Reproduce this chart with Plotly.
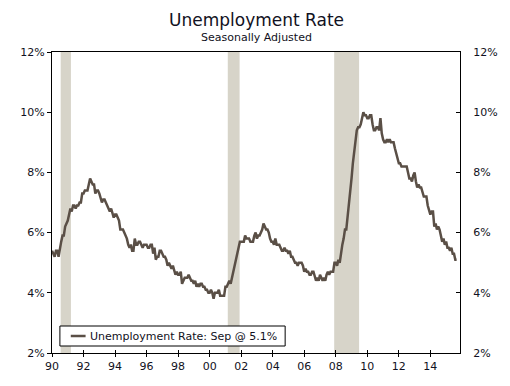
import plotly.graph_objects as go

title_text = "Unemployment Rate"
subtitle_text = "Seasonally Adjusted"
series_name = "Unemployment Rate: Sep @ 5.1%"

start_year = 1990
rate = [
    5.4, 5.3, 5.2, 5.4, 5.4, 5.2, 5.5, 5.7, 5.9, 5.9, 6.2, 6.3,
    6.4, 6.6, 6.8, 6.7, 6.9, 6.9, 6.8, 6.9, 6.9, 7.0, 7.0, 7.3,
    7.3, 7.4, 7.4, 7.4, 7.6, 7.8, 7.7, 7.6, 7.6, 7.3, 7.4, 7.4,
    7.3, 7.1, 7.0, 7.1, 7.1, 7.0, 6.9, 6.8, 6.7, 6.8, 6.6, 6.5,
    6.6, 6.6, 6.5, 6.4, 6.1, 6.1, 6.1, 6.0, 5.9, 5.8, 5.6, 5.5,
    5.6, 5.4, 5.4, 5.8, 5.6, 5.6, 5.7, 5.7, 5.6, 5.5, 5.6, 5.6,
    5.6, 5.5, 5.5, 5.6, 5.6, 5.3, 5.5, 5.1, 5.2, 5.2, 5.4, 5.4,
    5.3, 5.2, 5.2, 5.1, 4.9, 5.0, 4.9, 4.8, 4.9, 4.7, 4.6, 4.7,
    4.6, 4.6, 4.7, 4.3, 4.4, 4.5, 4.5, 4.5, 4.6, 4.5, 4.4, 4.4,
    4.3, 4.4, 4.2, 4.3, 4.2, 4.3, 4.3, 4.2, 4.2, 4.1, 4.1, 4.0,
    4.0, 4.1, 4.0, 3.8, 4.0, 4.0, 4.0, 4.1, 3.9, 3.9, 3.9, 3.9,
    4.2, 4.2, 4.3, 4.4, 4.3, 4.5, 4.6, 4.9, 5.0, 5.3, 5.5, 5.7,
    5.7, 5.7, 5.7, 5.9, 5.8, 5.8, 5.8, 5.7, 5.7, 5.7, 5.9, 6.0,
    5.8, 5.9, 5.9, 6.0, 6.1, 6.3, 6.2, 6.1, 6.1, 6.0, 5.8, 5.7,
    5.7, 5.6, 5.8, 5.6, 5.6, 5.6, 5.5, 5.4, 5.4, 5.5, 5.4, 5.4,
    5.3, 5.4, 5.2, 5.2, 5.1, 5.0, 5.0, 4.9, 5.0, 5.0, 5.0, 4.9,
    4.7, 4.8, 4.7, 4.7, 4.6, 4.6, 4.7, 4.7, 4.5, 4.4, 4.5, 4.4,
    4.6, 4.5, 4.4, 4.5, 4.4, 4.6, 4.7, 4.6, 4.7, 4.7, 4.7, 5.0,
    5.0, 4.9, 5.1, 5.0, 5.4, 5.6, 5.8, 6.1, 6.1, 6.5, 6.8, 7.3,
    7.8, 8.3, 8.7, 9.0, 9.4, 9.5, 9.5, 9.6, 9.8, 10.0, 9.9, 9.9,
    9.8, 9.8, 9.9, 9.9, 9.6, 9.4, 9.4, 9.5, 9.5, 9.4, 9.8, 9.3,
    9.1, 9.0, 9.0, 9.1, 9.0, 9.1, 9.0, 9.0, 9.0, 8.8, 8.6, 8.5,
    8.3, 8.3, 8.2, 8.2, 8.2, 8.2, 8.2, 8.0, 7.8, 7.8, 7.7, 7.9,
    8.0, 7.7, 7.5, 7.6, 7.5, 7.5, 7.3, 7.2, 7.2, 7.2, 6.9, 6.7,
    6.6, 6.7, 6.7, 6.2, 6.3, 6.1, 6.2, 6.1, 5.9, 5.7, 5.8, 5.6,
    5.7, 5.5, 5.5, 5.4, 5.5, 5.3, 5.3, 5.1, 5.1,
]
dates = [start_year + i / 12 for i in range(len(rate))]

recession_starts = [1990.55, 2001.15, 2007.9]
recession_ends = [1991.2, 2001.9, 2009.48]

x_tick_vals = list(range(1990, 2016, 2))
x_tick_text = ["90", "92", "94", "96", "98", "00", "02", "04", "06", "08", "10", "12", "14"]
y_tick_vals = [2, 4, 6, 8, 10, 12]
y_tick_text = ["2%", "4%", "6%", "8%", "10%", "12%"]

FONT = "DejaVu Sans"
LINE_COLOR = "#5a4f46"
SHADE = "#d7d4c9"
TXT = "#111122"

# page is offset by the 8px body margin
OFF = 8
W, H = 502, 378
L, T, R, B = 42, 44, 47, 33
plot_w = W - L - R
plot_h = H - T - B
X_RANGE = [1990, 2015.88]
Y_RANGE = [2, 12]


def px(xp):
    return (xp - OFF - L) / plot_w


def py(yp):
    return (H - B - (yp - OFF)) / plot_h


fig = go.Figure()
fig.add_trace(go.Scatter(
    x=dates, y=rate, mode="lines", name=series_name, showlegend=False,
    line=dict(color=LINE_COLOR, width=2.5),
))
fig.add_trace(go.Scatter(
    x=dates, y=rate, mode="lines", xaxis="x2", yaxis="y2", showlegend=False,
    line=dict(color="rgba(0,0,0,0)", width=0), hoverinfo="skip",
))

for s, e in zip(recession_starts, recession_ends):
    fig.add_shape(type="rect", xref="x", yref="paper", x0=s, x1=e, y0=0, y1=1,
                  fillcolor=SHADE, line=dict(width=0), layer="below")

# legend box drawn manually
fig.add_shape(type="rect", xref="paper", yref="paper",
              x0=px(58), x1=px(286), y0=py(346), y1=py(326),
              fillcolor="white", line=dict(color="black", width=1), layer="above")
fig.add_shape(type="line", xref="paper", yref="paper",
              x0=px(69), x1=px(84), y0=py(336), y1=py(336),
              line=dict(color=LINE_COLOR, width=2.5), layer="above")

tf = dict(family=FONT, size=11, color=TXT)
base = dict(showgrid=False, zeroline=False, linecolor="black", linewidth=1,
            tickcolor="black", tickfont=tf)

fig.update_layout(
    width=W, height=H,
    margin=dict(l=L, r=R, t=T, b=B),
    paper_bgcolor="white", plot_bgcolor="white",
    font=dict(family=FONT, color=TXT),
    xaxis=dict(range=X_RANGE, tickvals=x_tick_vals, ticktext=x_tick_text,
               showline=True, mirror=True, ticks="outside", ticklen=3, **base),
    xaxis2=dict(range=X_RANGE, tickvals=x_tick_vals, overlaying="x", side="bottom",
                showline=False, showticklabels=False, ticks="inside", ticklen=3, **base),
    yaxis=dict(range=Y_RANGE, tickvals=y_tick_vals, ticktext=y_tick_text,
               showline=True, ticks="outside", ticklen=4, **base),
    yaxis2=dict(range=Y_RANGE, tickvals=y_tick_vals, ticktext=y_tick_text,
                overlaying="y", side="right", showline=True,
                ticks="inside", ticklen=4, ticklabelstandoff=10, **base),
    showlegend=False,
    annotations=[
        dict(text=title_text, x=px(257), y=py(20), xref="paper", yref="paper",
             xanchor="center", yanchor="middle",
             showarrow=False, font=dict(family=FONT, size=17, color=TXT)),
        dict(text=subtitle_text, x=px(257), y=py(38), xref="paper", yref="paper",
             xanchor="center", yanchor="middle",
             showarrow=False, font=dict(family=FONT, size=11, color=TXT)),
        dict(text=series_name, x=px(86), y=py(336), xref="paper", yref="paper",
             xanchor="left", yanchor="middle",
             showarrow=False, font=dict(family=FONT, size=11, color=TXT)),
    ],
)

fig.write_html("out.html")
